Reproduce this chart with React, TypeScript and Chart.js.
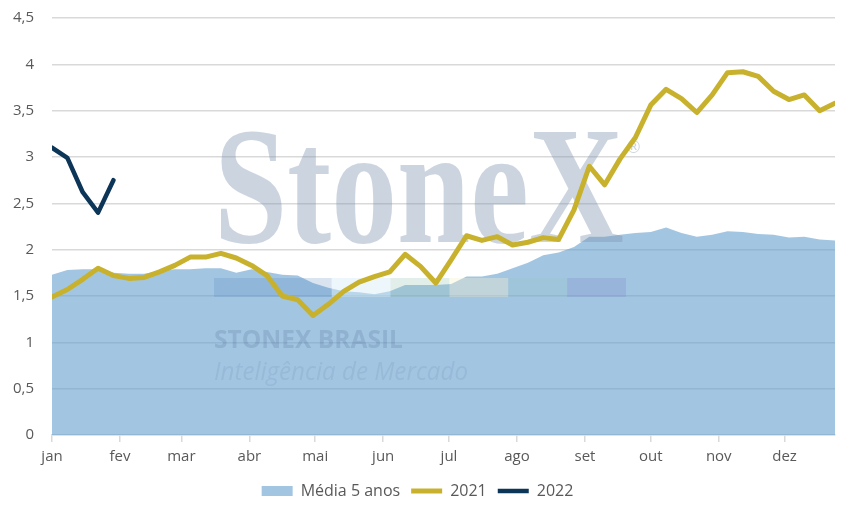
import React, { useEffect, useRef } from 'react';
import { Chart, registerables } from 'chart.js';

Chart.register(...registerables);

// Week offsets (days from 1 Jan) of each weekly observation
const weekDays = [0, 7, 14, 21, 28, 35, 42, 49, 56, 63, 70, 77, 84, 91, 98, 105, 112, 119, 126, 133, 140, 147, 154, 161, 168, 175, 182, 189, 196, 203, 210, 217, 224, 231, 238, 245, 252, 259, 266, 273, 280, 287, 294, 301, 308, 315, 322, 329, 336, 343, 350, 357];

const monthLabels = ['jan', 'fev', 'mar', 'abr', 'mai', 'jun', 'jul', 'ago', 'set', 'out', 'nov', 'dez'];
const monthStartDays = [0, 31, 59, 90, 120, 151, 181, 212, 243, 273, 304, 334];

const yTicks = [0, 0.5, 1, 1.5, 2, 2.5, 3, 3.5, 4, 4.5];

const media5Anos = [1.73, 1.78, 1.79, 1.79, 1.75, 1.74, 1.74, 1.77, 1.79, 1.79, 1.80, 1.80, 1.75, 1.79, 1.76, 1.73, 1.72, 1.64, 1.59, 1.55, 1.54, 1.52, 1.55, 1.62, 1.62, 1.62, 1.63, 1.71, 1.71, 1.74, 1.80, 1.86, 1.94, 1.97, 2.03, 2.14, 2.14, 2.16, 2.18, 2.19, 2.24, 2.18, 2.14, 2.16, 2.20, 2.19, 2.17, 2.16, 2.13, 2.14, 2.11, 2.10];

const serie2021 = [1.49, 1.57, 1.68, 1.80, 1.72, 1.69, 1.70, 1.76, 1.83, 1.92, 1.92, 1.96, 1.91, 1.83, 1.72, 1.50, 1.46, 1.29, 1.41, 1.55, 1.65, 1.71, 1.76, 1.95, 1.82, 1.64, 1.89, 2.15, 2.10, 2.14, 2.05, 2.08, 2.13, 2.11, 2.43, 2.90, 2.70, 2.98, 3.21, 3.56, 3.73, 3.63, 3.48, 3.67, 3.91, 3.92, 3.87, 3.71, 3.62, 3.67, 3.50, 3.58];

const serie2022 = [3.10, 2.99, 2.62, 2.40, 2.75];

const TEXT = '#595959';
const GRID = '#d9d9d9';

function drawFit(ctx: CanvasRenderingContext2D, text: string, x: number, y: number, targetW: number) {
  const w = ctx.measureText(text).width;
  ctx.save();
  ctx.translate(x, y);
  ctx.scale(targetW / w, 1);
  ctx.fillText(text, 0, 0);
  ctx.restore();
}

const watermark = {
  id: 'watermark',
  afterDatasetDraw(chart: any, args: any) {
    if (args.index !== 0) return;
    const ctx: CanvasRenderingContext2D = chart.ctx;
    const { left, top } = chart.chartArea;
    const ox = left - 52;
    const oy = top - 18;
    ctx.save();
    ctx.textBaseline = 'alphabetic';
    ctx.textAlign = 'left';
    // Big logo
    ctx.fillStyle = 'rgba(128,150,175,0.4)';
    ctx.font = 'bold 168px "Liberation Serif"';
    drawFit(ctx, 'StoneX', ox + 214, oy + 242, 410);
    ctx.font = '17px "DejaVu Sans"';
    ctx.fillText('®', ox + 625, oy + 153);
    // Colour band
    const bandColors = [
      'rgba(80,130,185,0.22)',
      'rgba(80,130,185,0.22)',
      'rgba(215,235,245,0.45)',
      'rgba(150,195,175,0.28)',
      'rgba(245,240,200,0.35)',
      'rgba(150,195,195,0.22)',
      'rgba(125,135,200,0.28)',
    ];
    const bw = 412 / bandColors.length;
    bandColors.forEach((c, i) => {
      ctx.fillStyle = c;
      ctx.fillRect(ox + 214 + i * bw, oy + 278, bw, 19);
    });
    // Subtitle lines
    ctx.fillStyle = 'rgba(70,100,135,0.2)';
    ctx.font = 'bold 25px "Open Sans"';
    drawFit(ctx, 'STONEX BRASIL', ox + 214, oy + 348, 189);
    ctx.fillStyle = 'rgba(90,120,155,0.14)';
    ctx.font = 'italic 25px "Open Sans"';
    drawFit(ctx, 'Inteligência de Mercado', ox + 214, oy + 380, 254);
    ctx.restore();
  },
};

export default function App() {
  const ref = useRef<HTMLCanvasElement | null>(null);

  useEffect(() => {
    if (!ref.current) return;
    const toPts = (vals: number[]) => vals.map((v, i) => ({ x: weekDays[i], y: v }));
    const chart = new Chart(ref.current, {
      type: 'line',
      data: {
        datasets: [
          {
            label: 'Média 5 anos',
            data: toPts(media5Anos),
            backgroundColor: 'rgba(100,158,206,0.6)',
            borderColor: 'rgba(100,158,206,0.6)',
            borderWidth: 0,
            fill: 'origin',
            pointRadius: 0,
            pointStyle: 'rect',
            tension: 0,
            order: 10,
          },
          {
            label: '2021',
            data: toPts(serie2021),
            borderColor: '#C8B22D',
            backgroundColor: '#C8B22D',
            borderWidth: 5,
            borderCapStyle: 'round',
            borderJoinStyle: 'round',
            fill: false,
            pointRadius: 0,
            pointStyle: 'line',
            tension: 0,
            order: 1,
          },
          {
            label: '2022',
            data: toPts(serie2022),
            borderColor: '#0C3558',
            backgroundColor: '#0C3558',
            borderWidth: 4.5,
            borderCapStyle: 'round',
            borderJoinStyle: 'round',
            fill: false,
            pointRadius: 0,
            pointStyle: 'line',
            tension: 0,
            order: 0,
          },
        ],
      },
      options: {
        animation: false,
        responsive: true,
        maintainAspectRatio: false,
        layout: { padding: { left: 0, right: 18, top: 18, bottom: 6 } },
        plugins: {
          legend: {
            position: 'bottom',
            labels: {
              usePointStyle: true,
              pointStyleWidth: 31,
              boxHeight: 10,
              padding: 11,
              color: TEXT,
              font: { family: '"Open Sans"', size: 16 },
              sort: (a: any, b: any) => a.datasetIndex - b.datasetIndex,
            },
          },
          tooltip: { enabled: false },
        },
        scales: {
          x: {
            type: 'linear',
            min: 0,
            max: 357,
            afterBuildTicks: (s: any) => {
              s.ticks = monthStartDays.map((v) => ({ value: v }));
            },
            ticks: {
              autoSkip: false,
              maxRotation: 0,
              padding: 6,
              color: TEXT,
              font: { family: '"Open Sans"', size: 15 },
              callback: (v: any) => monthLabels[monthStartDays.indexOf(Number(v))],
            },
            grid: { drawOnChartArea: false, drawTicks: true, tickLength: 7, color: GRID, lineWidth: 1.5 },
            border: { color: GRID, width: 1.5 },
          },
          y: {
            min: 0,
            max: 4.5,
            afterBuildTicks: (s: any) => {
              s.ticks = yTicks.map((v) => ({ value: v }));
            },
            afterFit: (s: any) => {
              s.width = 52;
            },
            ticks: {
              padding: 0,
              color: TEXT,
              font: { family: '"Open Sans"', size: 15 },
              callback: (v: any) => String(v).replace('.', ','),
            },
            grid: { color: GRID, lineWidth: 1.5, drawTicks: true, tickLength: 18, tickColor: 'rgba(0,0,0,0)' },
            border: { display: false },
          },
        },
      },
      plugins: [watermark],
    } as any);
    return () => chart.destroy();
  }, []);

  return (
    <div style={{ position: 'absolute', left: 0, top: 0, width: 853, height: 515, background: '#fff' }}>
      <canvas ref={ref} />
    </div>
  );
}
